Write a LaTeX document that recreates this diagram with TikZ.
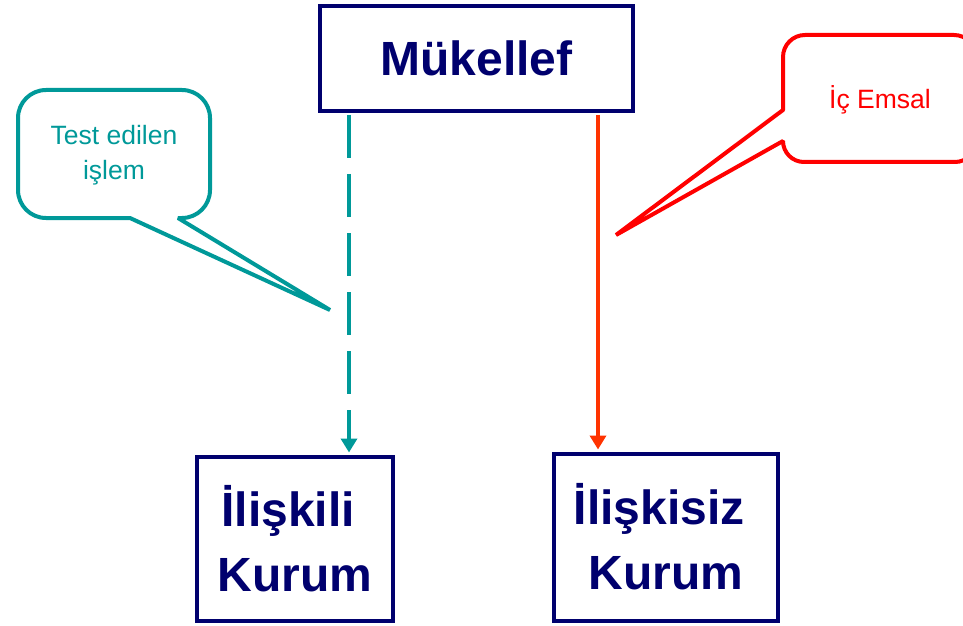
\documentclass[tikz,border=0pt]{standalone}
\usepackage{fontspec}
\setmainfont{Liberation Sans}
\usetikzlibrary{arrows.meta}
\definecolor{navy}{RGB}{0,0,110}
\definecolor{tealc}{RGB}{0,153,153}
\definecolor{redc}{RGB}{255,0,0}
\definecolor{orangered}{RGB}{255,51,0}
\begin{document}
\begin{tikzpicture}[x=1pt,y=1pt,
  box/.style={draw=navy, line width=4pt, text=navy, fill=white,
    font=\fontsize{48}{65}\selectfont\bfseries, align=center, inner sep=0pt},
  link/.style={shorten <=2pt, shorten >=2pt,
    -{Triangle[width=16pt,length=14pt]}},
  callout/.style={line width=4pt, line join=bevel},
  calltext/.style={font=\fontsize{26.5}{35}\selectfont, align=center}]
\useasboundingbox (0,0) rectangle (963,625);
\clip (0,0) rectangle (963,625);

% boxes
\node[box, minimum width=313pt, minimum height=105pt] (muk) at (476.5,566.5) {Mükellef};
\node[box, minimum width=196pt, minimum height=164pt] (ilis) at (295,86.5) {İlişkili\hspace*{0.28em}\\Kurum};
\node[box, minimum width=224pt, minimum height=167pt] (ilsz) at (666,88) {İlişkisiz\hspace*{0.28em}\\Kurum};

% connectors
\coordinate (tx) at (349,0);
\coordinate (rx) at (598,0);
\draw[link, line width=4pt, tealc, dash pattern=on 43pt off 16pt] (muk.south -| tx) -- (ilis.north -| tx);
\draw[link, line width=3.5pt, orangered] (muk.south -| rx) -- (ilsz.north -| rx);

% teal callout
\draw[callout, tealc] (130,407) -- (330,315) -- (178,407) -- (182,407)
  arc[start angle=-90, end angle=0, radius=28] -- (210,507)
  arc[start angle=0, end angle=90, radius=28] -- (46,535)
  arc[start angle=90, end angle=180, radius=28] -- (18,435)
  arc[start angle=180, end angle=270, radius=28] -- cycle;
\node[calltext, text=tealc] (te) at (114,470) {Test edilen\\işlem};

% red callout
\draw[callout, redc] (783,515) -- (616,390) -- (783,484)
  arc[start angle=180, end angle=270, radius=21] -- (955,463)
  arc[start angle=270, end angle=360, radius=21] -- (976,568)
  arc[start angle=0, end angle=90, radius=22] -- (805,590)
  arc[start angle=90, end angle=180, radius=22] -- cycle;
\node[calltext, text=redc] (ic) at (880,525) {İç Emsal};
\end{tikzpicture}
\end{document}
